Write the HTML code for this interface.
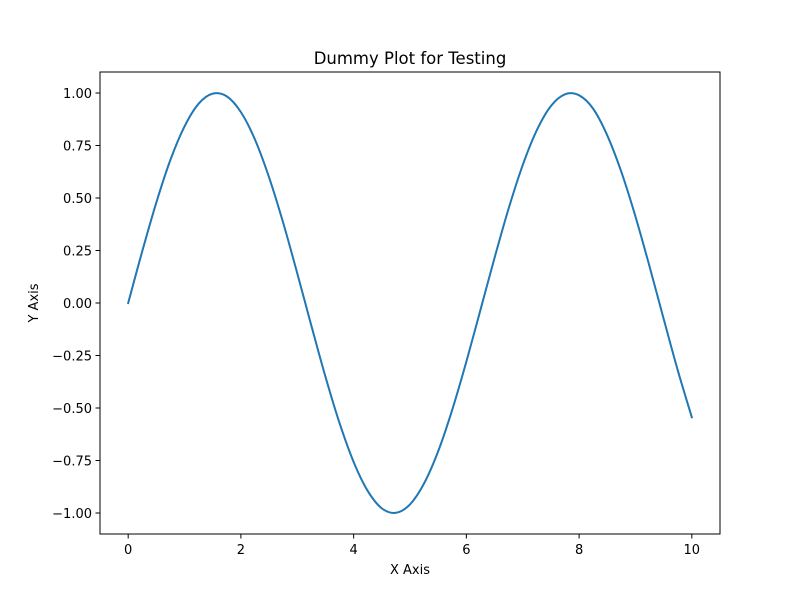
<!DOCTYPE html>
<html><head><meta charset="utf-8"><style>
html,body{margin:0;padding:0;background:#fff;}
svg text{font-family:"DejaVu Sans","Liberation Sans",sans-serif;fill:#000;}
</style></head><body>
<svg width="800" height="600" xmlns="http://www.w3.org/2000/svg">
<rect width="800" height="600" fill="#fff"/>
<g id="plot"></g>
</svg>
<script>
const xValues=[0,0.25,0.5,0.75,1,1.25,1.5,1.75,2,2.25,2.5,2.75,3,3.25,3.5,3.75,4,4.25,4.5,4.75,5,5.25,5.5,5.75,6,6.25,6.5,6.75,7,7.25,7.5,7.75,8,8.25,8.5,8.75,9,9.25,9.5,9.75,10];
const yValues=[0,0.247,0.479,0.682,0.841,0.949,0.997,0.984,0.909,0.778,0.598,0.382,0.141,-0.108,-0.351,-0.572,-0.757,-0.895,-0.978,-0.999,-0.959,-0.859,-0.706,-0.508,-0.279,-0.033,0.215,0.450,0.657,0.823,0.938,0.994,0.989,0.925,0.798,0.624,0.412,0.174,-0.075,-0.320,-0.544];
const xTicks=[0,2,4,6,8,10];
const yTicks=[-1,-0.75,-0.5,-0.25,0,0.25,0.5,0.75,1];
const yTickLabels=["\u22121.00","\u22120.75","\u22120.50","\u22120.25","0.00","0.25","0.50","0.75","1.00"];

const NS="http://www.w3.org/2000/svg";
const L=100,R=720,T=72,B=534;
const xMin=-0.5,xMax=10.5,yMin=-1.1,yMax=1.1;
const sx=v=>L+(v-xMin)/(xMax-xMin)*(R-L);
const sy=v=>B-(v-yMin)/(yMax-yMin)*(B-T);
const g=document.getElementById('plot');
function mk(tag,attrs,text){const e=document.createElementNS(NS,tag);for(const k in attrs)e.setAttribute(k,attrs[k]);if(text!==undefined)e.textContent=text;g.appendChild(e);return e;}

const pts=xValues.map((x,i)=>[sx(x),sy(yValues[i])]);
let d=`M${pts[0][0]},${pts[0][1]}`;
for(let i=0;i<pts.length-1;i++){
  const p0=pts[Math.max(0,i-1)],p1=pts[i],p2=pts[i+1],p3=pts[Math.min(pts.length-1,i+2)];
  const c1=[p1[0]+(p2[0]-p0[0])/6,p1[1]+(p2[1]-p0[1])/6];
  const c2=[p2[0]-(p3[0]-p1[0])/6,p2[1]-(p3[1]-p1[1])/6];
  d+=` C${c1[0]},${c1[1]} ${c2[0]},${c2[1]} ${p2[0]},${p2[1]}`;
}
const line=mk('path',{d:d,fill:'none',stroke:'#1f77b4','stroke-width':2,'stroke-linecap':'square'});



const frame=mk('rect',{x:L,y:T,width:R-L,height:B-T,fill:'none',stroke:'#000','stroke-width':1});



xTicks.forEach(v=>{
  const x=sx(v);
  const t=mk('line',{x1:x,x2:x,y1:B,y2:B+4.5,stroke:'#000','stroke-width':1});
  
  
  const lb=mk('text',{x:x,y:B+20,'text-anchor':'middle','font-size':13},String(v));
  
  
});
yTicks.forEach((v,i)=>{
  const y=sy(v);
  const t=mk('line',{x1:L-4.5,x2:L,y1:y,y2:y,stroke:'#000','stroke-width':1});
  
  
  const lb=mk('text',{x:L-8,y:y+5,'text-anchor':'end','font-size':13},yTickLabels[i]);
  
  
});
const title=mk('text',{x:(L+R)/2,y:64,'text-anchor':'middle','font-size':16.5},'Dummy Plot for Testing');


const xl=mk('text',{x:(L+R)/2,y:574,'text-anchor':'middle','font-size':13},'X Axis');


const yl=mk('text',{x:0,y:0,'text-anchor':'middle','font-size':13,transform:`translate(38,${(T+B)/2}) rotate(-90)`},'Y Axis');


</script>
</body></html>
